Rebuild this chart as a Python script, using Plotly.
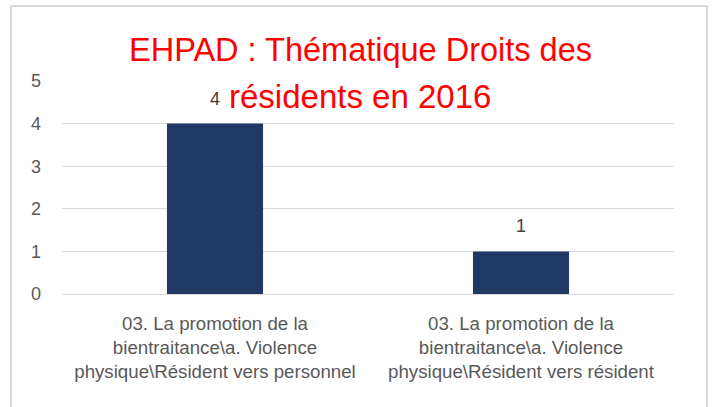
import plotly.graph_objects as go

categories = [
    "03. La promotion de la<br>bientraitance\\a. Violence<br>physique\\Résident vers personnel",
    "03. La promotion de la<br>bientraitance\\a. Violence<br>physique\\Résident vers résident",
]
values = [4, 1]
title_lines = ["EHPAD : Thématique Droits des", "résidents en 2016"]
y_ticks = [0, 1, 2, 3, 4, 5]

FONT = "Liberation Sans"
GRAY = "#595959"

fig = go.Figure()
fig.add_trace(go.Bar(
    x=categories, y=values,
    marker=dict(color="#203864", line=dict(width=0)),
    hoverinfo="skip",
))

for c, v in zip(categories, values):
    fig.add_annotation(
        x=c, y=v, xref="x", yref="y", text=str(v), showarrow=False,
        yanchor="middle", yshift=25,
        font=dict(family=FONT, size=18, color="#404040"),
    )

fig.add_annotation(
    x=0.487, y=1.147, xref="paper", yref="paper", text=title_lines[0],
    showarrow=False, xanchor="center", yanchor="middle",
    font=dict(family=FONT, size=32.5, color="#FF0000"),
)
fig.add_annotation(
    x=0.487, y=0.926, xref="paper", yref="paper", text=title_lines[1],
    showarrow=False, xanchor="center", yanchor="middle",
    font=dict(family=FONT, size=33, color="#FF0000"),
)

fig.add_shape(
    type="rect", xref="paper", yref="paper",
    x0=-0.0833, x1=1.054, y0=-0.6, y1=1.352,
    line=dict(color="#D9D9D9", width=2), fillcolor="rgba(0,0,0,0)",
    layer="below",
)

fig.update_layout(
    width=715, height=407,
    margin=dict(l=62, r=41, t=81, b=113),
    paper_bgcolor="white", plot_bgcolor="white",
    bargap=0.686,
    showlegend=False,
    xaxis=dict(
        showgrid=False, showline=False, zeroline=False, ticks="",
        tickfont=dict(family=FONT, size=18.7, color=GRAY),
        ticklabelstandoff=16, automargin=False,
    ),
    yaxis=dict(
        range=[0, 5], tickvals=y_ticks, showgrid=True,
        gridcolor="#D9D9D9", gridwidth=1.3,
        zeroline=True, zerolinecolor="#D9D9D9", zerolinewidth=1.3,
        showline=False, ticks="",
        tickfont=dict(family=FONT, size=18, color=GRAY),
        ticklabelstandoff=20, automargin=False,
    ),
)

fig.write_html(
    "out.html",
    config={"displayModeBar": False},
    post_script="document.body.style.margin='0';",
)
